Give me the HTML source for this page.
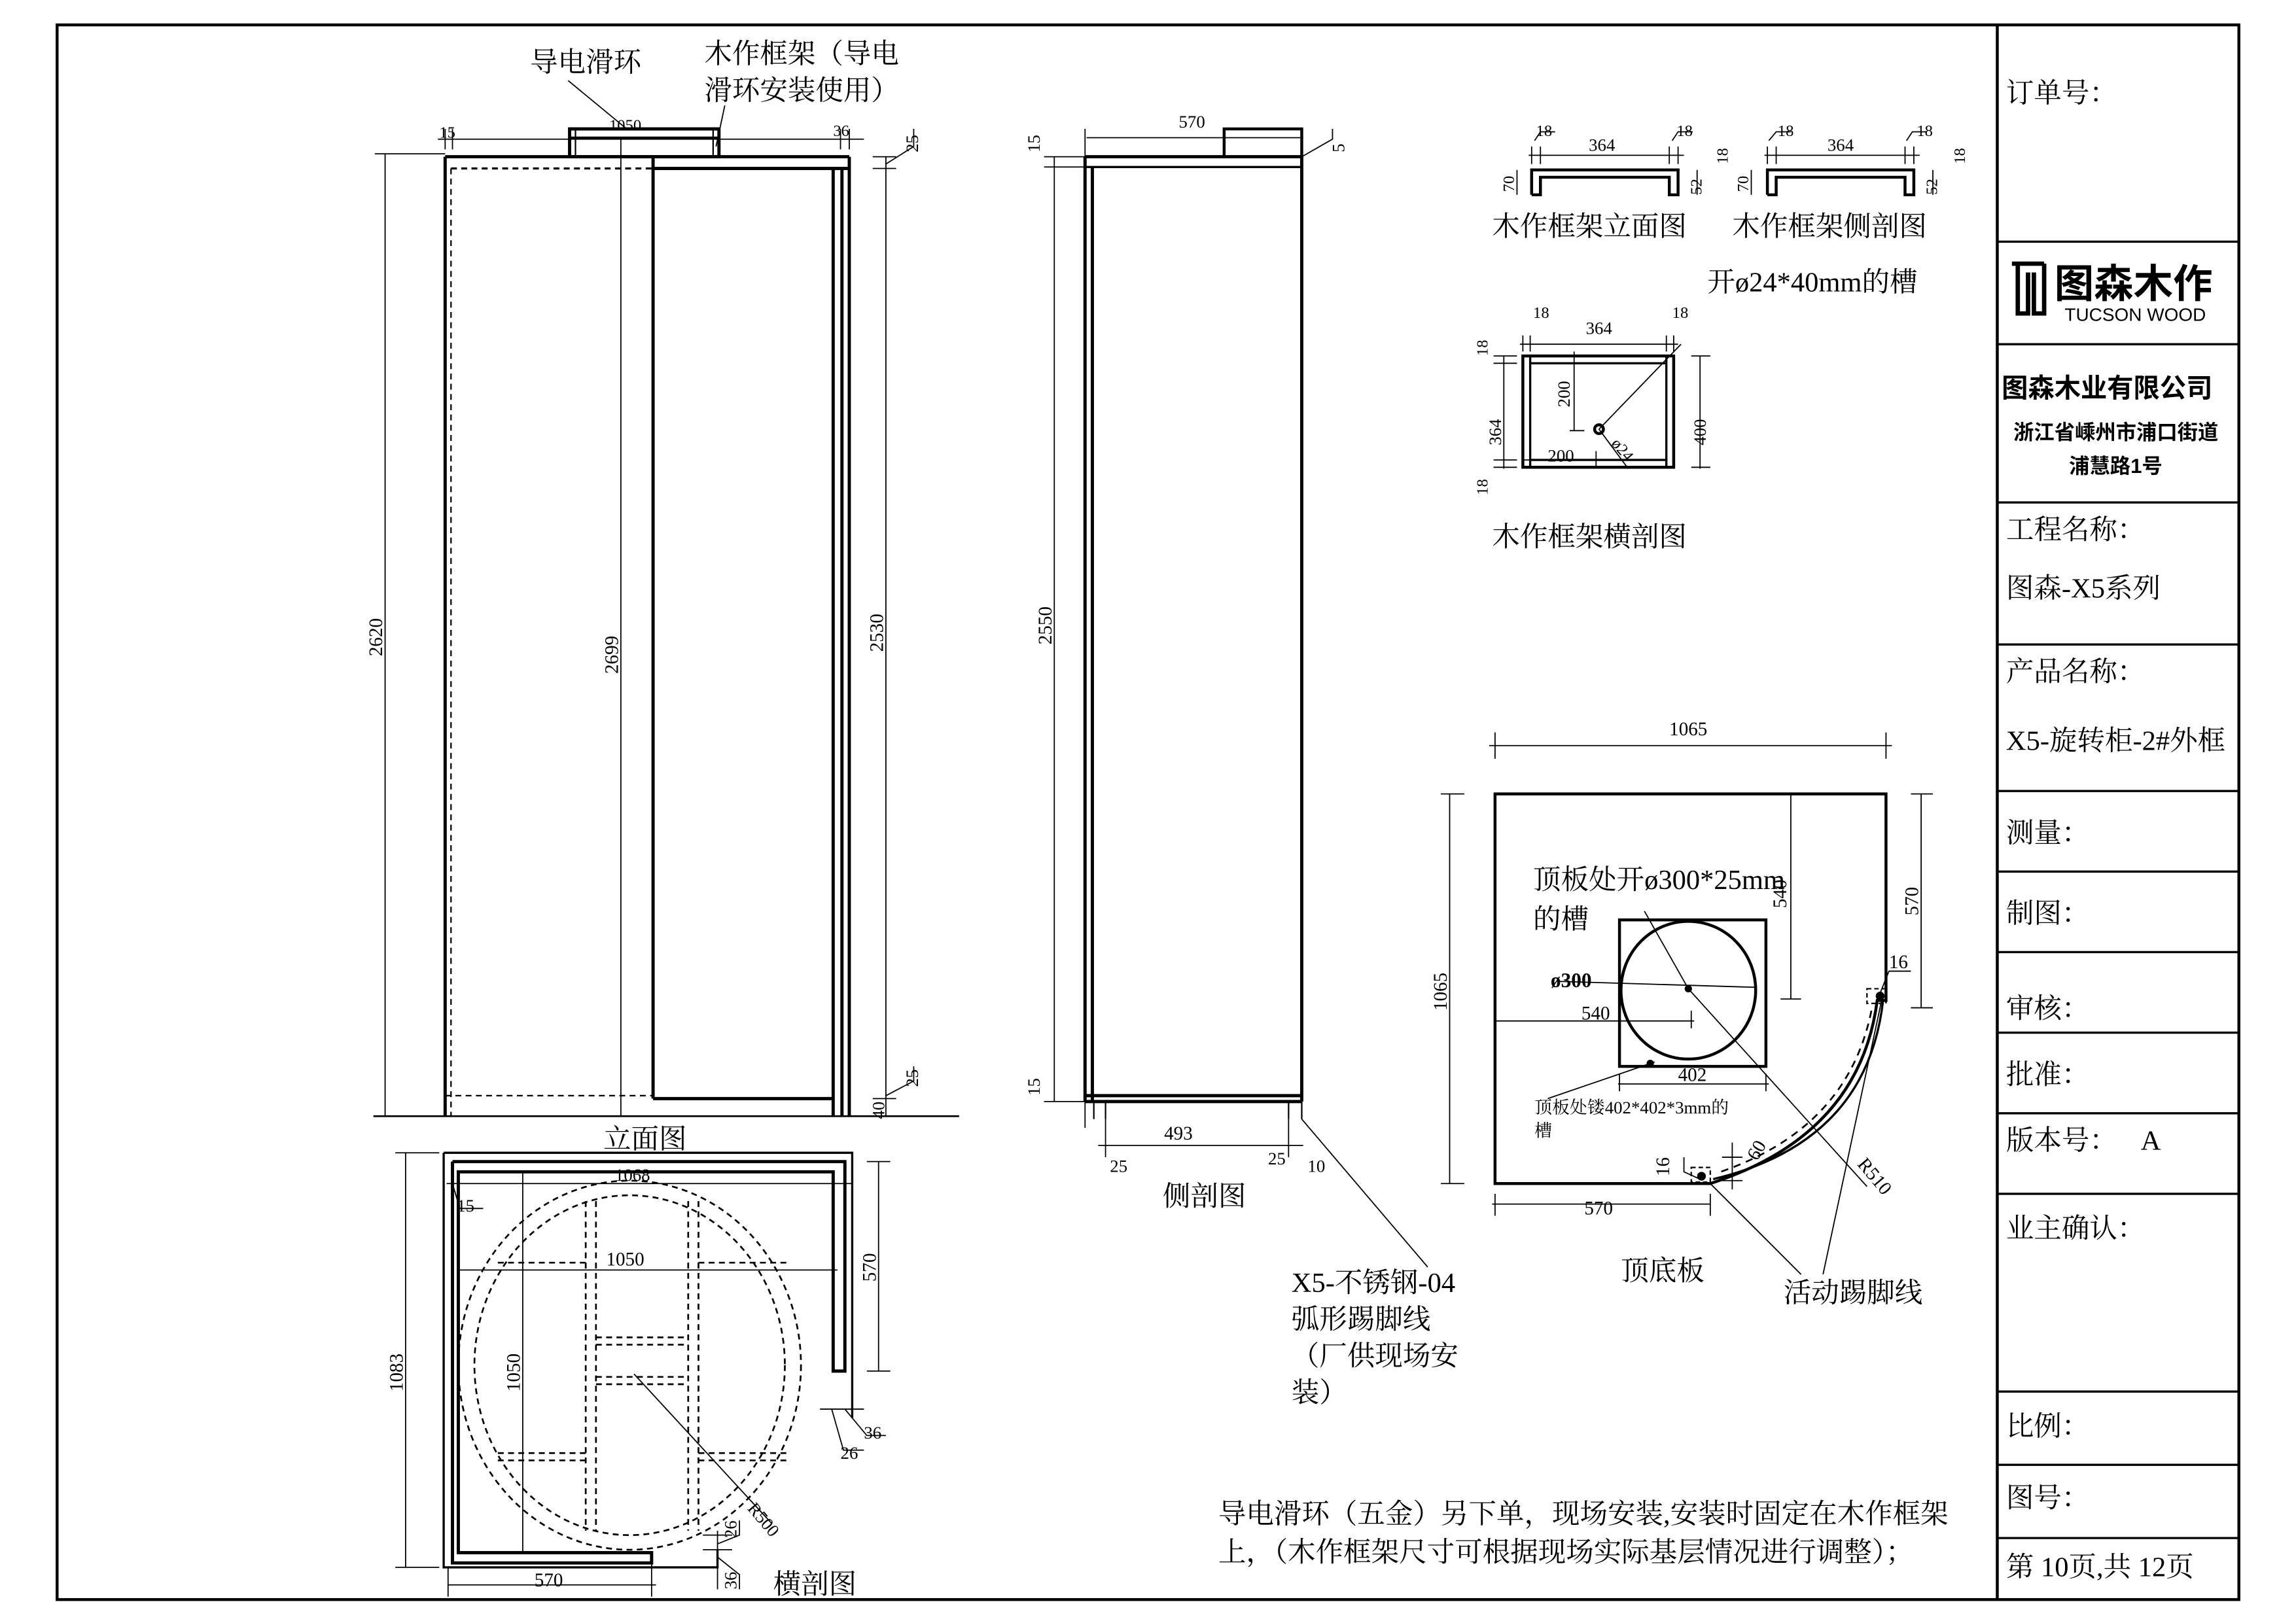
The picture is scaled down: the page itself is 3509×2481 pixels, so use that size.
<!DOCTYPE html>
<html><head><meta charset="utf-8"><style>
html,body{margin:0;padding:0;background:#fff;}
svg{display:block;}
text{font-family:"Liberation Serif","Noto Serif CJK SC","Noto Sans CJK SC",serif;fill:#000;}
.s{font-family:"Liberation Sans","Noto Sans CJK SC",sans-serif;}
</style></head><body>
<svg width="3509" height="2481" viewBox="0 0 1568 1108" preserveAspectRatio="none" xmlns="http://www.w3.org/2000/svg">
<rect width="1580" height="1120" fill="#fff"/>
<g fill="none" stroke="#000">
<rect x="39" y="17" width="1490" height="1075" stroke-width="2"/>
<line x1="1364" y1="17" x2="1364" y2="1092" stroke-width="2"/>
<g stroke-width="1.5">
<line x1="1364" y1="165" x2="1529" y2="165"/>
<line x1="1364" y1="235" x2="1529" y2="235"/>
<line x1="1364" y1="343" x2="1529" y2="343"/>
<line x1="1364" y1="440" x2="1529" y2="440"/>
<line x1="1364" y1="540" x2="1529" y2="540"/>
<line x1="1364" y1="595" x2="1529" y2="595"/>
<line x1="1364" y1="650" x2="1529" y2="650"/>
<line x1="1364" y1="705" x2="1529" y2="705"/>
<line x1="1364" y1="760" x2="1529" y2="760"/>
<line x1="1364" y1="815" x2="1529" y2="815"/>
<line x1="1364" y1="950" x2="1529" y2="950"/>
<line x1="1364" y1="1000" x2="1529" y2="1000"/>
<line x1="1364" y1="1050" x2="1529" y2="1050"/>
</g>

<g stroke-width="2.2">
<rect x="389" y="88" width="102" height="19"/>
<line x1="304" y1="107" x2="580" y2="107"/>
<line x1="446" y1="115" x2="580" y2="115"/>
<line x1="304" y1="107" x2="304" y2="762"/>
<line x1="446" y1="107" x2="446" y2="750"/>
<line x1="446" y1="750" x2="569" y2="750"/>
<line x1="569" y1="115" x2="569" y2="762"/>
<line x1="575" y1="115" x2="575" y2="762"/>
<line x1="580" y1="107" x2="580" y2="762"/>
</g>
<line x1="393" y1="88" x2="393" y2="107"/><line x1="487" y1="88" x2="487" y2="107"/>
<line x1="389" y1="94" x2="491" y2="94" stroke-width="1.5"/>
<line x1="308" y1="115" x2="446" y2="115" stroke-dasharray="4,3" stroke-width="1.5"/>
<line x1="308" y1="115" x2="308" y2="762" stroke-dasharray="4,3"/>
<line x1="304" y1="748" x2="446" y2="748" stroke-dasharray="4,3"/>
<line x1="424" y1="95" x2="424" y2="762" stroke-width="0.8"/>
<line x1="255" y1="762" x2="655" y2="762" stroke-width="1.2"/>
<g stroke-width="0.8">
<line x1="299" y1="95" x2="590" y2="95"/>
<line x1="304" y1="88" x2="304" y2="102"/><line x1="309" y1="88" x2="309" y2="102"/>
<line x1="574" y1="88" x2="574" y2="102"/><line x1="580" y1="88" x2="580" y2="102"/>
<line x1="263" y1="105" x2="263" y2="762"/>
<line x1="256" y1="105" x2="304" y2="105"/>
<line x1="605" y1="107" x2="605" y2="762"/>
<line x1="596" y1="107" x2="612" y2="107"/><line x1="596" y1="115" x2="612" y2="115"/>
<line x1="596" y1="750" x2="612" y2="750"/>
<polyline points="605,112 624,100 624,88"/>
<polyline points="605,748 624,738 624,728"/>
<line x1="388" y1="55" x2="428" y2="88"/>
<line x1="489" y1="100" x2="495" y2="72"/>
</g>
<g stroke-width="2.2">
<rect x="836" y="88" width="53" height="19" stroke-width="2"/>
<line x1="741" y1="107" x2="889" y2="107"/>
<line x1="741" y1="114" x2="889" y2="114" stroke-width="1.5"/>
<line x1="741" y1="107" x2="741" y2="752"/>
<line x1="746" y1="114" x2="746" y2="752"/>
<line x1="889" y1="107" x2="889" y2="752"/>
<line x1="741" y1="748" x2="889" y2="748"/>
<line x1="741" y1="752" x2="889" y2="752"/>
</g>
<line x1="747" y1="752" x2="747" y2="764"/><line x1="755" y1="752" x2="755" y2="764"/>
<line x1="880" y1="752" x2="880" y2="764"/><line x1="889" y1="752" x2="889" y2="764"/>
<g stroke-width="0.8">
<line x1="742" y1="94" x2="890" y2="94"/>
<line x1="741" y1="88" x2="741" y2="770"/>
<line x1="720" y1="107" x2="720" y2="752"/>
<line x1="713" y1="107" x2="741" y2="107"/><line x1="713" y1="114" x2="741" y2="114"/>
<line x1="713" y1="752" x2="741" y2="752"/>
<line x1="750" y1="782" x2="890" y2="782"/>
<line x1="755" y1="764" x2="755" y2="790"/><line x1="880" y1="764" x2="880" y2="790"/>
<line x1="889" y1="764" x2="975" y2="865"/>
<polyline points="889,107 910,95 910,88"/>
</g>

<g stroke-width="1.5">
<polyline points="303,787 582,787 582,968"/>
<polyline points="303,787 303,1070 490,1070 490,1058"/>
</g>
<g stroke-width="2.2">
<polyline points="309,793 577,793 577,936 569,936 569,800 313,800 313,1060 445,1060 445,1067 309,1067 309,793"/>
</g>
<g stroke-dasharray="4,3" stroke-width="1.2">
<ellipse cx="430" cy="932" rx="117" ry="126"/>
<ellipse cx="430" cy="932" rx="106" ry="116"/>
<line x1="400" y1="820" x2="400" y2="1045"/><line x1="407" y1="820" x2="407" y2="1045"/>
<line x1="470" y1="820" x2="470" y2="1045"/><line x1="477" y1="820" x2="477" y2="1045"/>
<line x1="340" y1="862" x2="400" y2="862"/><line x1="477" y1="862" x2="540" y2="862"/>
<line x1="340" y1="992" x2="400" y2="992"/><line x1="477" y1="992" x2="540" y2="992"/>
<line x1="340" y1="997" x2="400" y2="997"/><line x1="477" y1="997" x2="540" y2="997"/>
<line x1="407" y1="913" x2="470" y2="913"/><line x1="407" y1="918" x2="470" y2="918"/>
<line x1="407" y1="940" x2="470" y2="940"/><line x1="407" y1="945" x2="470" y2="945"/>
</g>
<g stroke-width="0.8">
<line x1="305" y1="808" x2="582" y2="808"/>
<line x1="313" y1="867" x2="572" y2="867"/>
<line x1="357" y1="800" x2="357" y2="1060"/>
<line x1="277" y1="787" x2="277" y2="1070"/>
<line x1="270" y1="787" x2="300" y2="787"/><line x1="270" y1="1070" x2="300" y2="1070"/>
<line x1="600" y1="793" x2="600" y2="936"/>
<line x1="592" y1="793" x2="608" y2="793"/><line x1="592" y1="936" x2="608" y2="936"/>
<line x1="306" y1="1082" x2="448" y2="1082"/>
<line x1="306" y1="1070" x2="306" y2="1090"/><line x1="445" y1="1067" x2="445" y2="1090"/>
<line x1="433" y1="938" x2="527" y2="1040"/>
<polyline points="309,808 314,825 330,825"/>
<line x1="560" y1="962" x2="590" y2="962"/>
<polyline points="568,962 576,990 590,990"/>
<polyline points="577,962 592,980 605,980"/>
<line x1="490" y1="1045" x2="490" y2="1085"/>
<line x1="480" y1="1048" x2="500" y2="1048"/><line x1="480" y1="1058" x2="500" y2="1058"/>
<polyline points="490,1054 505,1048 505,1038"/>
<polyline points="490,1063 505,1075 505,1085"/>
</g>

<g stroke-width="2">
<polyline points="1046,133 1046,116 1146,116 1146,133 1140,133 1140,121 1052,121 1052,133 1046,133"/>
<polyline points="1207,133 1207,116 1307,116 1307,133 1301,133 1301,121 1213,121 1213,133 1207,133"/>
<rect x="1040" y="243" width="103" height="76"/>
<rect x="1045" y="243" width="93" height="76" stroke-width="1.5"/>
<line x1="1045" y1="248" x2="1138" y2="248" stroke-width="1.5"/>
<line x1="1045" y1="314" x2="1138" y2="314" stroke-width="1.5"/>
<circle cx="1092" cy="293" r="3"/>
</g>
<g stroke-width="0.8">
<line x1="1044" y1="106" x2="1150" y2="106"/><line x1="1205" y1="106" x2="1311" y2="106"/>
<line x1="1046" y1="100" x2="1046" y2="112"/><line x1="1052" y1="100" x2="1052" y2="112"/>
<line x1="1140" y1="100" x2="1140" y2="112"/><line x1="1146" y1="100" x2="1146" y2="112"/>
<line x1="1207" y1="100" x2="1207" y2="112"/><line x1="1213" y1="100" x2="1213" y2="112"/>
<line x1="1301" y1="100" x2="1301" y2="112"/><line x1="1307" y1="100" x2="1307" y2="112"/>
<line x1="1036" y1="116" x2="1036" y2="133"/><line x1="1196" y1="116" x2="1196" y2="133"/>
<line x1="1159" y1="116" x2="1159" y2="133"/><line x1="1320" y1="116" x2="1320" y2="133"/>
<polyline points="1048,96 1052,90 1062,90"/><polyline points="1142,96 1146,90 1156,90"/>
<polyline points="1208,96 1213,90 1223,90"/><polyline points="1302,96 1306,90 1316,90"/>
<line x1="1038" y1="235" x2="1146" y2="235"/>
<line x1="1040" y1="229" x2="1040" y2="240"/><line x1="1045" y1="229" x2="1045" y2="240"/>
<line x1="1138" y1="229" x2="1138" y2="240"/><line x1="1143" y1="229" x2="1143" y2="240"/>
<line x1="1027" y1="243" x2="1027" y2="320"/>
<line x1="1020" y1="243" x2="1036" y2="243"/><line x1="1020" y1="248" x2="1036" y2="248"/>
<line x1="1020" y1="314" x2="1036" y2="314"/><line x1="1020" y1="319" x2="1036" y2="319"/>
<line x1="1161" y1="243" x2="1161" y2="320"/>
<line x1="1155" y1="243" x2="1168" y2="243"/><line x1="1155" y1="319" x2="1168" y2="319"/>
<line x1="1075" y1="240" x2="1075" y2="294"/><line x1="1072" y1="294" x2="1082" y2="294"/>
<line x1="1040" y1="314" x2="1090" y2="314"/><line x1="1090" y1="308" x2="1090" y2="318"/>
<line x1="1092" y1="293" x2="1148" y2="235"/>
<line x1="1092" y1="293" x2="1112" y2="320"/>
</g>

<g stroke-width="2">
<path d="M1021,542 L1288,542 L1288,683 L1282,683 Q1270,775 1168,808 L1021,808 Z"/>
<rect x="1106" y="628" width="100" height="100"/>
<ellipse cx="1153" cy="676" rx="46" ry="47"/>
<path d="M1286,683 Q1275,780 1170,805" stroke-width="1.5"/>
</g>
<path d="M1278,690 Q1262,770 1175,800" stroke-dasharray="5,4" stroke-width="1.2"/>
<rect x="1275" y="675" width="13" height="10" stroke-dasharray="3,2" stroke-width="1"/>
<rect x="1155" y="797" width="13" height="10" stroke-dasharray="3,2" stroke-width="1"/>
<g stroke-width="0.8">
<line x1="1017" y1="509" x2="1292" y2="509"/>
<line x1="1021" y1="500" x2="1021" y2="518"/><line x1="1288" y1="500" x2="1288" y2="518"/>
<line x1="990" y1="542" x2="990" y2="808"/>
<line x1="984" y1="542" x2="1000" y2="542"/><line x1="984" y1="808" x2="1000" y2="808"/>
<line x1="1223" y1="542" x2="1223" y2="682"/><line x1="1216" y1="682" x2="1230" y2="682"/>
<line x1="1312" y1="542" x2="1312" y2="688"/>
<line x1="1305" y1="542" x2="1320" y2="542"/><line x1="1305" y1="688" x2="1320" y2="688"/>
<line x1="1019" y1="822" x2="1168" y2="822"/>
<line x1="1021" y1="815" x2="1021" y2="830"/><line x1="1168" y1="815" x2="1168" y2="830"/>
<line x1="1021" y1="697" x2="1157" y2="697"/><line x1="1155" y1="690" x2="1155" y2="702"/>
<line x1="1105" y1="740" x2="1208" y2="740"/>
<line x1="1106" y1="733" x2="1106" y2="745"/><line x1="1206" y1="733" x2="1206" y2="745"/>
<line x1="1065" y1="670" x2="1198" y2="674"/>
<line x1="1123" y1="622" x2="1153" y2="675"/>
<line x1="1153" y1="675" x2="1275" y2="810"/>
<line x1="1057" y1="750" x2="1130" y2="725"/>
<polyline points="1282,683 1290,663 1305,663"/>
<polyline points="1161,805 1150,800 1150,790"/>
<line x1="1183" y1="780" x2="1183" y2="812"/><line x1="1176" y1="790" x2="1190" y2="790"/><line x1="1176" y1="806" x2="1190" y2="806"/>
<line x1="1168" y1="808" x2="1230" y2="870"/>
<line x1="1285" y1="683" x2="1245" y2="870"/>
</g>
<circle cx="1153" cy="675" r="2" fill="#000"/>
<circle cx="1284" cy="680" r="2.5" fill="#000"/>
<circle cx="1162" cy="803" r="2.5" fill="#000"/>
<circle cx="1127" cy="726" r="2" fill="#000"/>

<path d="M1374,180 L1396,180 M1378,180 L1378,214 L1385,214 L1385,186 M1389,186 L1389,214 L1396,214 L1396,180" stroke-width="3"/>
</g>

<g font-size="19">
<text x="362" y="49">导电滑环</text>
<text x="481" y="43">木作框架（导电</text>
<text x="481" y="68">滑环安装使用）</text>
<text x="412" y="784">立面图</text>
<text x="794" y="823">侧剖图</text>
<text x="1019" y="161">木作框架立面图</text>
<text x="1183" y="161">木作框架侧剖图</text>
<text x="1166" y="199">开ø24*40mm的槽</text>
<text x="1019" y="373">木作框架横剖图</text>
<text x="1047" y="607">顶板处开ø300*25mm</text>
<text x="1047" y="634">的槽</text>
<text x="1107" y="874">顶底板</text>
<text x="1218" y="889">活动踢脚线</text>
<text x="882" y="882">X5-不锈钢-04</text>
<text x="882" y="907">弧形踢脚线</text>
<text x="882" y="932">（厂供现场安</text>
<text x="882" y="957">装）</text>
<text x="528" y="1088">横剖图</text>
<text x="832" y="1040">导电滑环（五金）另下单，现场安装,安装时固定在木作框架</text>
<text x="832" y="1066">上，（木作框架尺寸可根据现场实际基层情况进行调整）；</text>
<text x="1370" y="70">订单号：</text>
<text x="1370" y="368">工程名称：</text>
<text x="1370" y="408">图森-X5系列</text>
<text x="1370" y="465">产品名称：</text>
<text x="1370" y="512">X5-旋转柜-2#外框</text>
<text x="1370" y="575">测量：</text>
<text x="1370" y="630">制图：</text>
<text x="1370" y="695">审核：</text>
<text x="1370" y="740">批准：</text>
<text x="1370" y="785">版本号：</text>
<text x="1462" y="785">A</text>
<text x="1370" y="845">业主确认：</text>
<text x="1370" y="980">比例：</text>
<text x="1370" y="1029">图号：</text>
<text x="1370" y="1076">第 10页,共 12页</text>
</g>
<text class="s" x="1403" y="203" font-size="27" font-weight="bold">图森木作</text>
<text class="s" x="1410" y="219" font-size="12.5">TUCSON WOOD</text>
<text class="s" x="1367" y="271" font-size="18" font-weight="bold">图森木业有限公司</text>
<text class="s" x="1375" y="300" font-size="14" font-weight="bold">浙江省嵊州市浦口街道</text>
<text class="s" x="1413" y="323" font-size="14" font-weight="bold">浦慧路1号</text>
<g font-size="13">
<text x="1048" y="760" font-size="12">顶板处镂402*402*3mm的</text>
<text x="1048" y="776" font-size="12">槽</text>
<text x="1059" y="674" font-weight="bold" font-size="14">ø300</text>
<text x="1080" y="696">540</text>
<text x="1146" y="738">402</text>
<text x="1140" y="502">1065</text>
<text x="1082" y="829">570</text>
<text x="1290" y="661">16</text>
<text x="416" y="89" font-size="11">1050</text>
<text x="300" y="94" font-size="11">15</text>
<text x="569" y="93" font-size="11">36</text>
<text x="805" y="87" font-size="12">570</text>
<text x="795" y="778">493</text>
<text x="758" y="800" font-size="12">25</text>
<text x="866" y="795" font-size="12">25</text>
<text x="893" y="800" font-size="12">10</text>
<text x="420" y="806" font-size="12">1068</text>
<text x="414" y="864">1050</text>
<text x="312" y="827" font-size="12">15</text>
<text x="365" y="1083">570</text>
<text x="590" y="982" font-size="12">36</text>
<text x="574" y="996" font-size="12">26</text>
<text x="1085" y="103" font-size="12">364</text>
<text x="1248" y="103" font-size="12">364</text>
<text x="1049" y="93" font-size="11">18</text><text x="1145" y="93" font-size="11">18</text>
<text x="1214" y="93" font-size="11">18</text><text x="1309" y="93" font-size="11">18</text>
<text x="1083" y="228" font-size="12">364</text>
<text x="1047" y="217" font-size="11">18</text><text x="1142" y="217" font-size="11">18</text>
<text x="1057" y="315" font-size="12">200</text>
</g>
<g font-size="13">
<text transform="translate(261,448) rotate(-90)">2620</text>
<text transform="translate(422,460) rotate(-90)">2699</text>
<text transform="translate(603,445) rotate(-90)">2530</text>
<text transform="translate(627,104) rotate(-90)" font-size="12">25</text>
<text transform="translate(627,742) rotate(-90)" font-size="12">25</text>
<text transform="translate(604,764) rotate(-90)" font-size="12">40</text>
<text transform="translate(718,440) rotate(-90)">2550</text>
<text transform="translate(710,104) rotate(-90)" font-size="12">15</text>
<text transform="translate(710,748) rotate(-90)" font-size="12">15</text>
<text transform="translate(918,104) rotate(-90)" font-size="12">5</text>
<text transform="translate(275,950) rotate(-90)">1083</text>
<text transform="translate(355,950) rotate(-90)">1050</text>
<text transform="translate(598,875) rotate(-90)">570</text>
<text transform="translate(503,1050) rotate(-90)" font-size="12">26</text>
<text transform="translate(503,1085) rotate(-90)" font-size="12">36</text>
<text transform="translate(988,690) rotate(-90)">1065</text>
<text transform="translate(1220,620) rotate(-90)">540</text>
<text transform="translate(1310,625) rotate(-90)">570</text>
<text transform="translate(1140,803) rotate(-90)">16</text>
<text transform="translate(1200,793) rotate(-60)">60</text>
<text transform="translate(1268,795) rotate(50)">R510</text>
<text transform="translate(510,1030) rotate(50)" font-size="12">R500</text>
<text transform="translate(1034,131) rotate(-90)" font-size="11">70</text>
<text transform="translate(1194,131) rotate(-90)" font-size="11">70</text>
<text transform="translate(1162,133) rotate(-90)" font-size="11">52</text>
<text transform="translate(1323,133) rotate(-90)" font-size="11">52</text>
<text transform="translate(1180,112) rotate(-90)" font-size="11">18</text>
<text transform="translate(1342,112) rotate(-90)" font-size="11">18</text>
<text transform="translate(1025,304) rotate(-90)" font-size="12">364</text>
<text transform="translate(1165,304) rotate(-90)" font-size="12">400</text>
<text transform="translate(1072,278) rotate(-90)" font-size="12">200</text>
<text transform="translate(1016,243) rotate(-90)" font-size="11">18</text>
<text transform="translate(1016,338) rotate(-90)" font-size="11">18</text>
<text transform="translate(1100,303) rotate(50)" font-size="11">ø24</text>
</g>
</svg>
</body></html>
